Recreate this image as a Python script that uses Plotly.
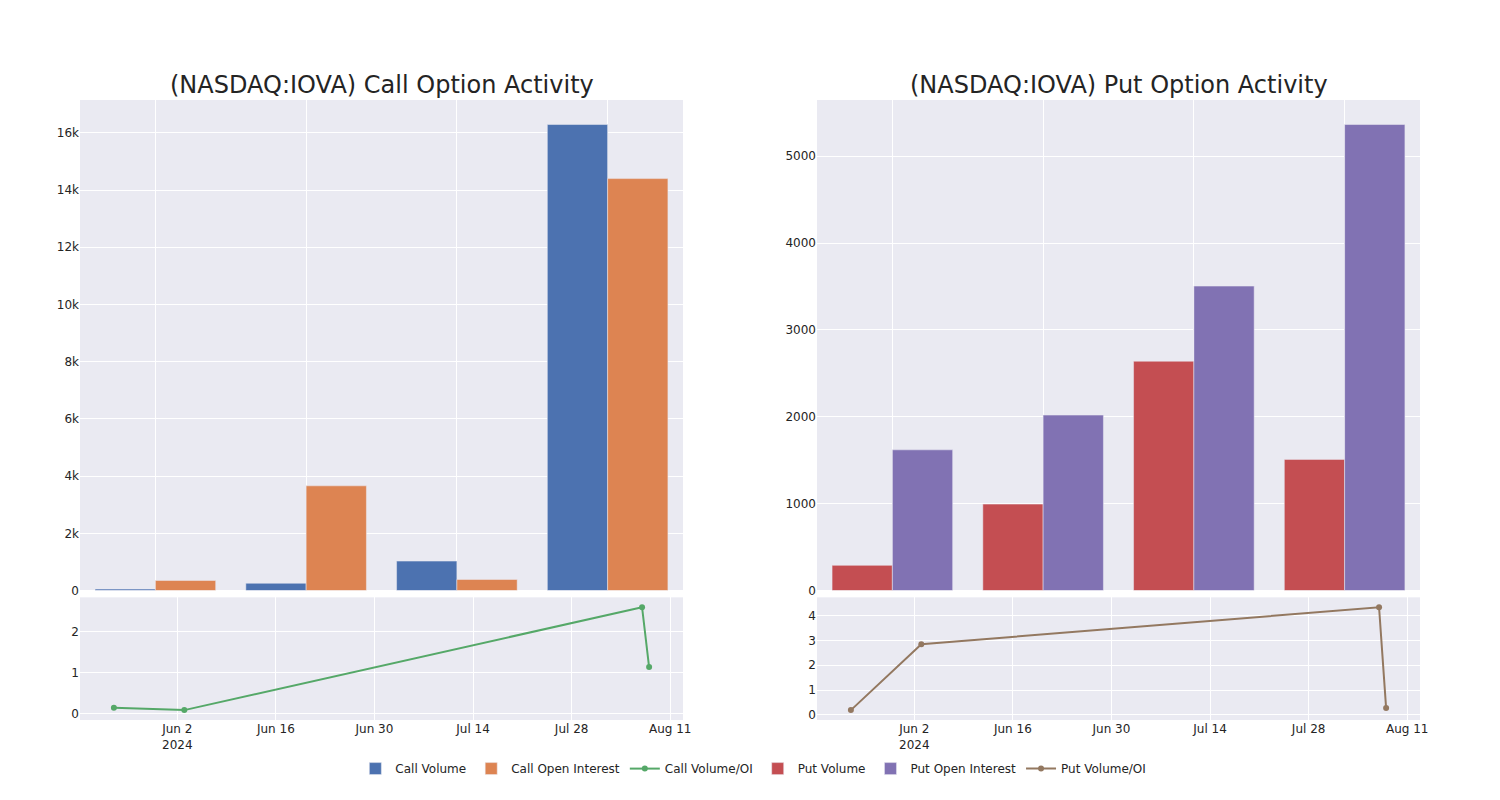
import plotly.graph_objects as go
from plotly.subplots import make_subplots

# Data
expiries = ["2024-05-24", "2024-06-03", "2024-08-07", "2024-08-08"]
call_volume = [50, 255, 1030, 16290]
call_oi = [350, 3660, 385, 14400]
call_ratio = [0.14, 0.08, 2.59, 1.13]
put_volume = [290, 995, 2640, 1510]
put_oi = [1620, 2020, 3505, 5365]
put_ratio = [0.19, 2.85, 4.34, 0.28]
titles = ["(NASDAQ:IOVA) Call Option Activity", "(NASDAQ:IOVA) Put Option Activity"]

fig = make_subplots(rows=2, cols=2, row_heights=[0.8, 0.2], vertical_spacing=0.011,
                    horizontal_spacing=0.1, subplot_titles=[titles[0], titles[1], "", ""])

fig.add_trace(go.Bar(x=expiries, y=call_volume, name="Call Volume"), row=1, col=1)
fig.add_trace(go.Bar(x=expiries, y=call_oi, name="Call Open Interest"), row=1, col=1)
fig.add_trace(go.Scatter(x=expiries, y=call_ratio, name="Call Volume/OI", mode="lines+markers"), row=2, col=1)
fig.add_trace(go.Bar(x=expiries, y=put_volume, name="Put Volume"), row=1, col=2)
fig.add_trace(go.Bar(x=expiries, y=put_oi, name="Put Open Interest"), row=1, col=2)
fig.add_trace(go.Scatter(x=expiries, y=put_ratio, name="Put Volume/OI", mode="lines+markers"), row=2, col=2)

fig.update_layout(template="seaborn", width=1500, height=800,
                  font=dict(family="DejaVu Sans"),
                  margin=dict(l=80, r=80, t=100, b=80),
                  legend=dict(orientation="h", x=0.5025, xanchor="center", y=-0.055, yanchor="top"))
fig.update_xaxes(type="category", showticklabels=False, row=1, col=1)
fig.update_xaxes(type="category", showticklabels=False, row=1, col=2)
fig.update_xaxes(type="date", row=2, col=1)
fig.update_xaxes(type="date", row=2, col=2)
for a in fig.layout.annotations:
    a.font.size = 24
    a.y = a.y - 0.002

fig.write_html("out.html", config={"displayModeBar": False},
               post_script="document.body.style.margin='0';")
